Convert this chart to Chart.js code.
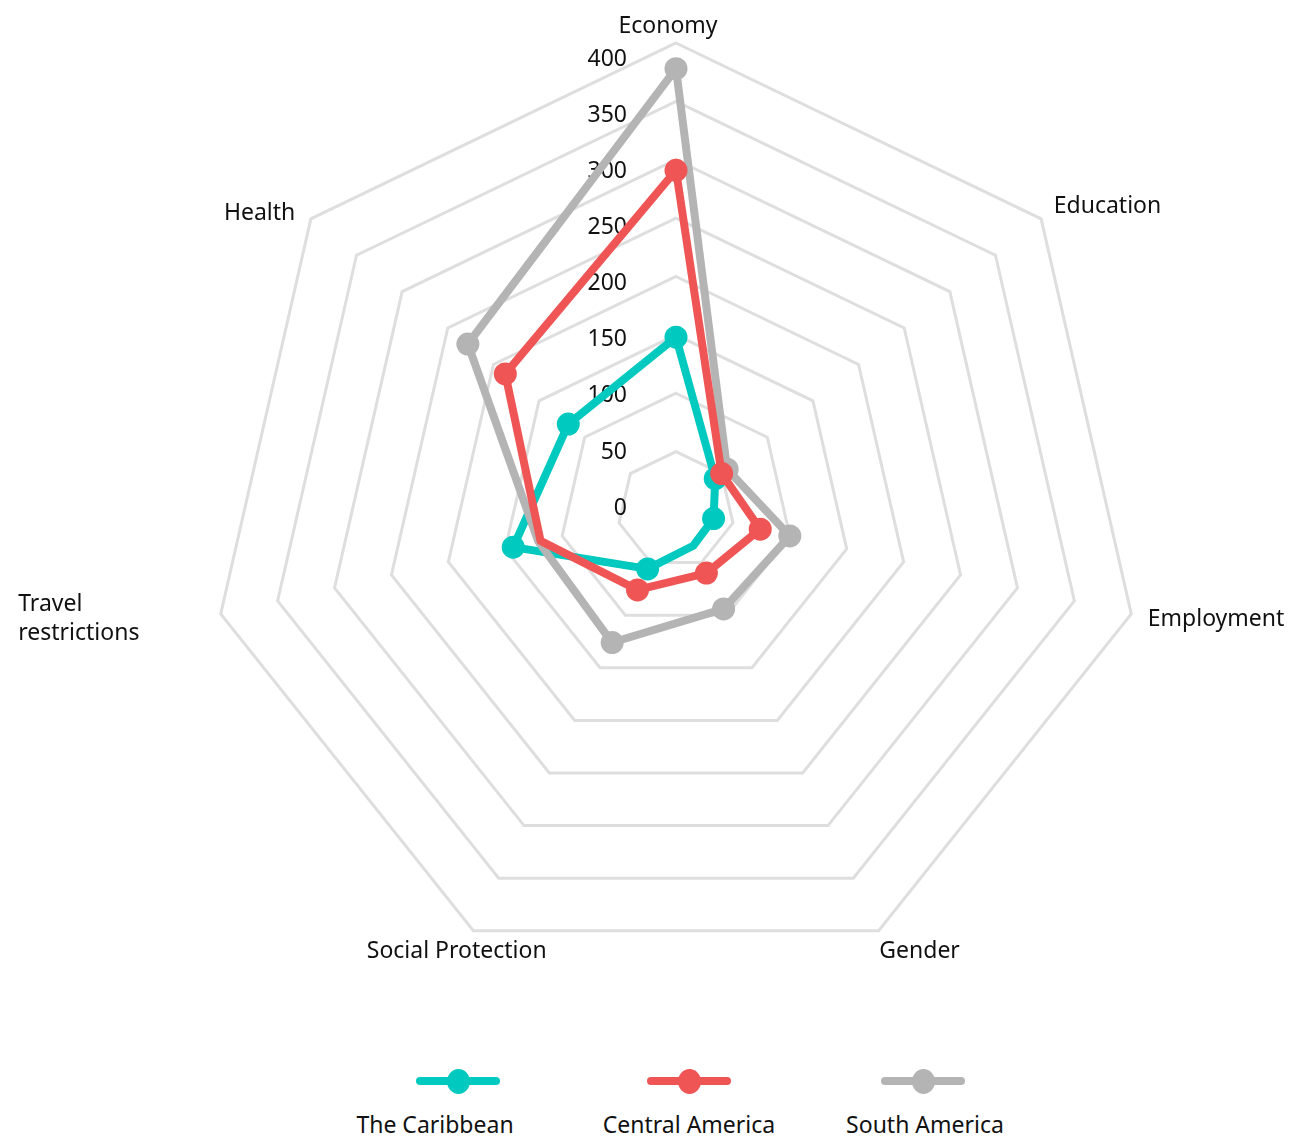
<!DOCTYPE html>
<html>
<head>
<meta charset="utf-8">
<script src="https://cdn.jsdelivr.net/npm/chart.js@4/dist/chart.umd.min.js"></script>
<style>
  html, body { margin: 0; padding: 0; background: #ffffff; }
  #wrap { position: relative; width: 1295px; height: 1138px; overflow: hidden; font-family: 'Noto Sans', sans-serif; color: #111; }
  #c { position: absolute; left: 0; top: 0; }
  .sym { position: absolute; height: 8px; border-radius: 4px; }
  .dot { position: absolute; width: 23px; height: 25px; border-radius: 50%; }
  .txt { position: absolute; font-size: 23px; line-height: 28px; white-space: nowrap; transform: translateX(-50%); }
</style>
</head>
<body>
<div id="wrap">
  <canvas id="c" width="1295" height="1040"></canvas>
  <div id="legend"></div>
</div>
<script>
// ---- data ----
const categories = ['Economy', 'Education', 'Employment', 'Gender', 'Social Protection', ['Travel', 'restrictions'], 'Health'];
const seriesNames = ['The Caribbean', 'Central America', 'South America'];
const caribbean = [148, 43, 33, 34, 56, 143, 118];
const centralAmerica = [291, 50, 74, 60, 76, 119, 187];
const southAmerica = [378, 56, 100, 94, 126, 121, 228];
const tickValues = [0, 50, 100, 150, 200, 250, 300, 350, 400];
const tickLabels = ['0', '50', '100', '150', '200', '250', '300', '350', '400'];
// which points carry a visible marker
const caribbeanMarkers = [true, true, true, false, true, true, true];
const centralAmericaMarkers = [true, true, true, true, true, false, true];
const southAmericaMarkers = [true, true, true, true, true, false, true];

// ---- styles ----
const COLORS = ['#00C9BF', '#F05555', '#B4B4B4'];
const FONT = "23px 'Noto Sans', sans-serif";
const TEXT_COLOR = '#111111';
const pointLabelStyle = [
  { align: 'center', dx: -8, dy: 3 },
  { align: 'left', dx: -3, dy: 0 },
  { align: 'left', dx: -3, dy: 1 },
  { align: 'left', dx: -8, dy: 3 },
  { align: 'center', dx: -8, dy: 3 },
  { align: 'left', dx: -183, dy: 1 },
  { align: 'right', dx: 0, dy: 7 }
];
const legendSymbolX = [458, 689, 923];
const legendTextX = [435, 689, 925];

const seriesValues = [caribbean, centralAmerica, southAmerica];
const seriesMarkers = [caribbeanMarkers, centralAmericaMarkers, southAmericaMarkers];
const drawOrder = [2, 0, 1];

const labelsPlugin = {
  id: 'customLabels',
  beforeDatasetsDraw(chart) {
    const scale = chart.scales.r;
    const ctx = chart.ctx;
    ctx.save();
    ctx.font = FONT;
    ctx.fillStyle = TEXT_COLOR;
    ctx.textBaseline = 'middle';
    ctx.textAlign = 'right';
    tickValues.forEach((v, i) => {
      const d = scale.getDistanceFromCenterForValue(v);
      ctx.fillText(tickLabels[i], scale.xCenter - 49, scale.yCenter - 2 - d * 0.96);
    });
    ctx.restore();
  },
  afterDraw(chart) {
    const scale = chart.scales.r;
    const ctx = chart.ctx;
    ctx.save();
    ctx.font = FONT;
    ctx.fillStyle = TEXT_COLOR;
    ctx.textBaseline = 'middle';
    categories.forEach((lab, i) => {
      const st = pointLabelStyle[i];
      const p = scale.getPointPosition(i, scale.drawingArea + 20);
      const lines = Array.isArray(lab) ? lab : [lab];
      const lh = 29;
      const y0 = p.y + st.dy - (lines.length - 1) * lh / 2;
      ctx.textAlign = st.align;
      lines.forEach((ln, k) => ctx.fillText(ln, p.x + st.dx, y0 + k * lh));
    });
    ctx.restore();
  }
};

new Chart(document.getElementById('c'), {
  type: 'radar',
  data: {
    labels: categories,
    datasets: seriesNames.map((name, i) => ({
      label: name,
      data: seriesValues[i],
      borderColor: COLORS[i],
      backgroundColor: COLORS[i],
      pointBackgroundColor: COLORS[i],
      pointBorderColor: COLORS[i],
      pointRadius: seriesMarkers[i].map(m => (m ? 11.5 : 0)),
      pointBorderWidth: 0,
      borderWidth: 8,
      fill: false,
      tension: 0,
      order: drawOrder[i]
    }))
  },
  options: {
    responsive: false,
    animation: false,
    events: [],
    layout: { padding: { left: 209, right: 152, top: 43, bottom: 63 } },
    plugins: { legend: { display: false }, tooltip: { enabled: false } },
    elements: { line: { borderJoinStyle: 'round' } },
    scales: {
      r: {
        min: 0,
        max: 400,
        ticks: { display: false, stepSize: 50 },
        grid: { color: '#DEDEDE', lineWidth: 3 },
        angleLines: { display: false },
        pointLabels: { display: false }
      }
    }
  },
  plugins: [labelsPlugin]
});

// ---- legend ----
const legend = document.getElementById('legend');
seriesNames.forEach((name, i) => {
  const line = document.createElement('div');
  line.className = 'sym';
  line.style.background = COLORS[i];
  line.style.left = (legendSymbolX[i] - 42) + 'px';
  line.style.width = '84px';
  line.style.top = '1077px';
  legend.appendChild(line);
  const dot = document.createElement('div');
  dot.className = 'dot';
  dot.style.background = COLORS[i];
  dot.style.left = (legendSymbolX[i] - 11.5) + 'px';
  dot.style.top = '1068.5px';
  legend.appendChild(dot);
  const t = document.createElement('div');
  t.className = 'txt';
  t.textContent = name;
  t.style.left = legendTextX[i] + 'px';
  t.style.top = '1110px';
  legend.appendChild(t);
});
</script>
</body>
</html>
